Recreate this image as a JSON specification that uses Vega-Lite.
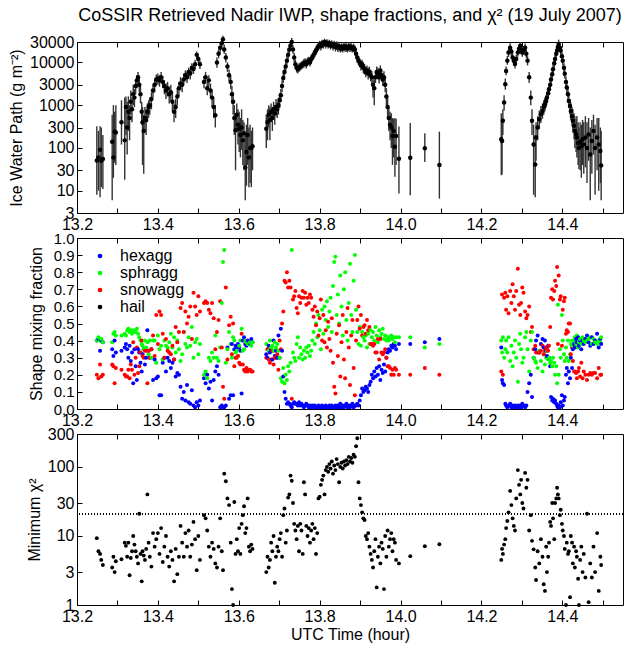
{
"$schema":"https://vega.github.io/schema/vega-lite/v6.json",
"background":"white",
"padding":{"left":8,"top":6,"right":0,"bottom":4},
"title":{"text":"CoSSIR Retrieved Nadir IWP, shape fractions, and χ² (19 July 2007)","fontSize":18,"font":"Liberation Sans","fontWeight":"normal","color":"black","anchor":"middle","offset":9,"dx":34},
"config":{"font":"Liberation Sans","view":{"stroke":"black","strokeWidth":1},
"axis":{"labelFont":"Liberation Sans","labelFontSize":16,"labelColor":"black","labelOverlap":false,"titleFont":"Liberation Sans","titleFontSize":16,"titleFontWeight":"normal","titleColor":"black","grid":false,"domain":false,"tickColor":"black","tickSize":-5,"labelPadding":8}},
"spacing":25,
"bounds":"flush",
"resolve":{"legend":{"color":"independent"}},
"datasets":{"d":[
{"t":13.249,"iwp":51,"lo":8,"hi":320,"hexagg":0.40,"sphragg":0.40,"snowagg":0.20,"chi2":9.3},
{"t":13.253,"iwp":60,"lo":10,"hi":250,"hexagg":0.41,"sphragg":0.42,"snowagg":0.18,"chi2":6.0},
{"t":13.257,"iwp":90,"lo":7,"hi":320,"hexagg":0.34,"sphragg":0.40,"snowagg":0.26,"chi2":5.5},
{"t":13.260,"iwp":50,"lo":12,"hi":300,"hexagg":0.40,"sphragg":0.41,"snowagg":0.19,"chi2":4.5},
{"t":13.264,"iwp":55,"lo":11,"hi":200,"hexagg":0.39,"sphragg":0.39,"snowagg":0.20,"chi2":3.8},
{"t":13.287,"iwp":140,"lo":6,"hi":600,"hexagg":0.35,"sphragg":0.39,"snowagg":0.26,"chi2":3.5},
{"t":13.290,"iwp":60,"lo":20,"hi":1000,"hexagg":0.31,"sphragg":0.44,"snowagg":0.25,"chi2":5.0},
{"t":13.293,"iwp":240,"lo":45,"hi":700,"hexagg":0.40,"sphragg":0.45,"snowagg":0.15,"chi2":3.0},
{"t":13.296,"iwp":230,"lo":40,"hi":1000,"hexagg":0.33,"sphragg":0.43,"snowagg":0.24,"chi2":4.3},
{"t":13.310,"iwp":400,"lo":120,"hi":1300,"hexagg":0.34,"sphragg":0.43,"snowagg":0.23,"chi2":4.6},
{"t":13.318,"iwp":150,"lo":18,"hi":1500,"hexagg":0.36,"sphragg":0.44,"snowagg":0.20,"chi2":8.0},
{"t":13.321,"iwp":900,"lo":200,"hi":1600,"hexagg":0.38,"sphragg":0.43,"snowagg":0.19,"chi2":7.2},
{"t":13.324,"iwp":300,"lo":70,"hi":1200,"hexagg":0.35,"sphragg":0.46,"snowagg":0.19,"chi2":5.0},
{"t":13.327,"iwp":700,"lo":250,"hi":1600,"hexagg":0.30,"sphragg":0.47,"snowagg":0.23,"chi2":8.0},
{"t":13.330,"iwp":500,"lo":150,"hi":1000,"hexagg":0.37,"sphragg":0.45,"snowagg":0.18,"chi2":2.7},
{"t":13.333,"iwp":1200,"lo":600,"hi":2200,"hexagg":0.28,"sphragg":0.46,"snowagg":0.26,"chi2":4.8},
{"t":13.336,"iwp":800,"lo":400,"hi":1500,"hexagg":0.33,"sphragg":0.44,"snowagg":0.23,"chi2":6.0},
{"t":13.339,"iwp":1800,"lo":1000,"hi":3000,"hexagg":0.15,"sphragg":0.46,"snowagg":0.39,"chi2":10},
{"t":13.342,"iwp":1500,"lo":900,"hi":2400,"hexagg":0.35,"sphragg":0.45,"snowagg":0.20,"chi2":7.5},
{"t":13.345,"iwp":2800,"lo":1800,"hi":4000,"hexagg":0.25,"sphragg":0.45,"snowagg":0.30,"chi2":6},
{"t":13.348,"iwp":3800,"lo":2500,"hi":5000,"hexagg":0.17,"sphragg":0.47,"snowagg":0.36,"chi2":5},
{"t":13.351,"iwp":4500,"lo":3200,"hi":6000,"hexagg":0.35,"sphragg":0.44,"snowagg":0.21,"chi2":4},
{"t":13.354,"iwp":3000,"lo":2000,"hi":4200,"hexagg":0.33,"sphragg":0.42,"snowagg":0.25,"chi2":21},
{"t":13.357,"iwp":1800,"lo":1100,"hi":2800,"hexagg":0.27,"sphragg":0.40,"snowagg":0.33,"chi2":5.5},
{"t":13.360,"iwp":700,"lo":350,"hi":1200,"hexagg":0.22,"sphragg":0.38,"snowagg":0.40,"chi2":2.2},
{"t":13.362,"iwp":400,"lo":40,"hi":900,"hexagg":0.32,"sphragg":0.37,"snowagg":0.31,"chi2":6},
{"t":13.365,"iwp":250,"lo":25,"hi":600,"hexagg":0.35,"sphragg":0.35,"snowagg":0.30,"chi2":5.2},
{"t":13.368,"iwp":500,"lo":250,"hi":900,"hexagg":0.26,"sphragg":0.40,"snowagg":0.34,"chi2":4.5},
{"t":13.371,"iwp":450,"lo":200,"hi":800,"hexagg":0.30,"sphragg":0.36,"snowagg":0.34,"chi2":6.5},
{"t":13.374,"iwp":700,"lo":400,"hi":1100,"hexagg":0.46,"sphragg":0.39,"snowagg":0.15,"chi2":40},
{"t":13.377,"iwp":900,"lo":500,"hi":1300,"hexagg":0.34,"sphragg":0.32,"snowagg":0.34,"chi2":8},
{"t":13.380,"iwp":1000,"lo":600,"hi":1500,"hexagg":0.30,"sphragg":0.40,"snowagg":0.30,"chi2":5},
{"t":13.384,"iwp":1400,"lo":800,"hi":2000,"hexagg":0.35,"sphragg":0.30,"snowagg":0.35,"chi2":3.6},
{"t":13.388,"iwp":2200,"lo":1500,"hi":3000,"hexagg":0.17,"sphragg":0.40,"snowagg":0.43,"chi2":11},
{"t":13.392,"iwp":3000,"lo":2000,"hi":4000,"hexagg":0.29,"sphragg":0.40,"snowagg":0.31,"chi2":7},
{"t":13.396,"iwp":4000,"lo":3000,"hi":5200,"hexagg":0.18,"sphragg":0.27,"snowagg":0.55,"chi2":9},
{"t":13.400,"iwp":4200,"lo":3000,"hi":5500,"hexagg":0.19,"sphragg":0.43,"snowagg":0.38,"chi2":11},
{"t":13.404,"iwp":3800,"lo":2700,"hi":5000,"hexagg":0.08,"sphragg":0.35,"snowagg":0.57,"chi2":5.5},
{"t":13.408,"iwp":4500,"lo":3300,"hi":6000,"hexagg":0.08,"sphragg":0.37,"snowagg":0.55,"chi2":13},
{"t":13.412,"iwp":3500,"lo":2500,"hi":4800,"hexagg":0.27,"sphragg":0.29,"snowagg":0.44,"chi2":4.2},
{"t":13.416,"iwp":2800,"lo":1800,"hi":3800,"hexagg":0.30,"sphragg":0.40,"snowagg":0.30,"chi2":7},
{"t":13.420,"iwp":2200,"lo":1400,"hi":3200,"hexagg":0.22,"sphragg":0.37,"snowagg":0.41,"chi2":10},
{"t":13.424,"iwp":2500,"lo":1600,"hi":3500,"hexagg":0.30,"sphragg":0.36,"snowagg":0.34,"chi2":5},
{"t":13.428,"iwp":1800,"lo":1100,"hi":2700,"hexagg":0.28,"sphragg":0.39,"snowagg":0.33,"chi2":3.6},
{"t":13.432,"iwp":2000,"lo":1200,"hi":3000,"hexagg":0.24,"sphragg":0.44,"snowagg":0.32,"chi2":6},
{"t":13.436,"iwp":1200,"lo":700,"hi":1900,"hexagg":0.27,"sphragg":0.36,"snowagg":0.37,"chi2":4.5},
{"t":13.440,"iwp":700,"lo":400,"hi":1100,"hexagg":0.29,"sphragg":0.42,"snowagg":0.29,"chi2":2.2},
{"t":13.444,"iwp":900,"lo":500,"hi":1400,"hexagg":0.19,"sphragg":0.33,"snowagg":0.48,"chi2":6.5},
{"t":13.448,"iwp":1600,"lo":1000,"hi":2500,"hexagg":0.21,"sphragg":0.40,"snowagg":0.39,"chi2":2.8},
{"t":13.452,"iwp":2500,"lo":1600,"hi":3500,"hexagg":0.20,"sphragg":0.35,"snowagg":0.45,"chi2":5},
{"t":13.456,"iwp":3200,"lo":2200,"hi":4500,"hexagg":0.13,"sphragg":0.28,"snowagg":0.59,"chi2":14},
{"t":13.460,"iwp":3000,"lo":2000,"hi":4200,"hexagg":0.06,"sphragg":0.32,"snowagg":0.62,"chi2":8},
{"t":13.464,"iwp":4000,"lo":3000,"hi":5500,"hexagg":0.10,"sphragg":0.45,"snowagg":0.45,"chi2":5},
{"t":13.468,"iwp":5000,"lo":3800,"hi":6500,"hexagg":0.05,"sphragg":0.38,"snowagg":0.57,"chi2":11},
{"t":13.472,"iwp":4500,"lo":3300,"hi":6000,"hexagg":0.14,"sphragg":0.36,"snowagg":0.50,"chi2":7},
{"t":13.476,"iwp":6000,"lo":4600,"hi":7500,"hexagg":0.04,"sphragg":0.42,"snowagg":0.54,"chi2":12},
{"t":13.480,"iwp":5500,"lo":4000,"hi":7200,"hexagg":0.03,"sphragg":0.37,"snowagg":0.60,"chi2":5},
{"t":13.484,"iwp":7500,"lo":5800,"hi":9500,"hexagg":0.11,"sphragg":0.48,"snowagg":0.41,"chi2":7.5},
{"t":13.488,"iwp":7000,"lo":5400,"hi":9000,"hexagg":0.02,"sphragg":0.30,"snowagg":0.68,"chi2":16},
{"t":13.492,"iwp":9000,"lo":7000,"hi":11500,"hexagg":0.01,"sphragg":0.39,"snowagg":0.60,"chi2":9},
{"t":13.496,"iwp":15000,"lo":12000,"hi":18000,"hexagg":0.04,"sphragg":0.41,"snowagg":0.55,"chi2":3.2},
{"t":13.500,"iwp":12000,"lo":9500,"hi":14500,"hexagg":0.02,"sphragg":0.32,"snowagg":0.66,"chi2":10},
{"t":13.504,"iwp":9000,"lo":7000,"hi":11000,"hexagg":0.05,"sphragg":0.38,"snowagg":0.57,"chi2":4.5},
{"t":13.514,"iwp":3500,"lo":2500,"hi":4800,"hexagg":0.18,"sphragg":0.20,"snowagg":0.62,"chi2":20},
{"t":13.518,"iwp":4500,"lo":3300,"hi":6000,"hexagg":0.15,"sphragg":0.22,"snowagg":0.63,"chi2":18},
{"t":13.522,"iwp":2500,"lo":1700,"hi":3500,"hexagg":0.20,"sphragg":0.18,"snowagg":0.62,"chi2":12},
{"t":13.526,"iwp":3800,"lo":2700,"hi":5000,"hexagg":0.12,"sphragg":0.30,"snowagg":0.58,"chi2":7},
{"t":13.530,"iwp":2200,"lo":1500,"hi":3200,"hexagg":0.16,"sphragg":0.28,"snowagg":0.56,"chi2":5},
{"t":13.534,"iwp":1500,"lo":900,"hi":2300,"hexagg":0.05,"sphragg":0.33,"snowagg":0.62,"chi2":8},
{"t":13.538,"iwp":900,"lo":500,"hi":1500,"hexagg":0.17,"sphragg":0.30,"snowagg":0.53,"chi2":6.5},
{"t":13.542,"iwp":580,"lo":300,"hi":1000,"hexagg":0.22,"sphragg":0.43,"snowagg":0.35,"chi2":4},
{"t":13.546,"iwp":10000,"lo":7500,"hi":13000,"hexagg":0.25,"sphragg":0.30,"snowagg":0.45,"chi2":3.5},
{"t":13.550,"iwp":16000,"lo":12500,"hi":20000,"hexagg":0.20,"sphragg":0.28,"snowagg":0.52,"chi2":7},
{"t":13.554,"iwp":22000,"lo":17000,"hi":28000,"hexagg":0.01,"sphragg":0.36,"snowagg":0.63,"chi2":18},
{"t":13.558,"iwp":28000,"lo":22000,"hi":35000,"hexagg":0.02,"sphragg":0.62,"snowagg":0.36,"chi2":6},
{"t":13.561,"iwp":35000,"lo":27000,"hi":42000,"hexagg":0.01,"sphragg":0.86,"snowagg":0.13,"chi2":3.2},
{"t":13.564,"iwp":20000,"lo":16000,"hi":26000,"hexagg":0.01,"sphragg":0.93,"snowagg":0.06,"chi2":80},
{"t":13.568,"iwp":13000,"lo":10000,"hi":16500,"hexagg":0.02,"sphragg":0.27,"snowagg":0.71,"chi2":62},
{"t":13.572,"iwp":8000,"lo":6000,"hi":10000,"hexagg":0.36,"sphragg":0.35,"snowagg":0.29,"chi2":35},
{"t":13.576,"iwp":5000,"lo":3600,"hi":6800,"hexagg":0.06,"sphragg":0.45,"snowagg":0.49,"chi2":28},
{"t":13.580,"iwp":3500,"lo":2400,"hi":4800,"hexagg":0.08,"sphragg":0.38,"snowagg":0.54,"chi2":8},
{"t":13.583,"iwp":1800,"lo":1100,"hi":2800,"hexagg":0.38,"sphragg":0.30,"snowagg":0.32,"chi2":1.7},
{"t":13.586,"iwp":1200,"lo":600,"hi":2000,"hexagg":0.08,"sphragg":0.42,"snowagg":0.50,"chi2":1.0},
{"t":13.589,"iwp":500,"lo":200,"hi":1000,"hexagg":0.35,"sphragg":0.40,"snowagg":0.25,"chi2":31},
{"t":13.592,"iwp":260,"lo":30,"hi":600,"hexagg":0.37,"sphragg":0.33,"snowagg":0.30,"chi2":5.5},
{"t":13.595,"iwp":600,"lo":250,"hi":1100,"hexagg":0.36,"sphragg":0.34,"snowagg":0.30,"chi2":9},
{"t":13.598,"iwp":350,"lo":120,"hi":800,"hexagg":0.38,"sphragg":0.31,"snowagg":0.31,"chi2":6},
{"t":13.601,"iwp":280,"lo":80,"hi":700,"hexagg":0.36,"sphragg":0.37,"snowagg":0.27,"chi2":13},
{"t":13.604,"iwp":200,"lo":60,"hi":500,"hexagg":0.34,"sphragg":0.40,"snowagg":0.26,"chi2":5.5},
{"t":13.607,"iwp":300,"lo":90,"hi":800,"hexagg":0.09,"sphragg":0.47,"snowagg":0.44,"chi2":15},
{"t":13.610,"iwp":150,"lo":40,"hi":450,"hexagg":0.40,"sphragg":0.34,"snowagg":0.26,"chi2":20},
{"t":13.613,"iwp":220,"lo":30,"hi":400,"hexagg":0.42,"sphragg":0.35,"snowagg":0.23,"chi2":27},
{"t":13.616,"iwp":35,"lo":6,"hi":200,"hexagg":0.38,"sphragg":0.40,"snowagg":0.22,"chi2":11},
{"t":13.619,"iwp":80,"lo":13,"hi":350,"hexagg":0.37,"sphragg":0.39,"snowagg":0.24,"chi2":13},
{"t":13.622,"iwp":200,"lo":40,"hi":500,"hexagg":0.40,"sphragg":0.38,"snowagg":0.22,"chi2":35},
{"t":13.625,"iwp":60,"lo":12,"hi":300,"hexagg":0.39,"sphragg":0.38,"snowagg":0.23,"chi2":7},
{"t":13.628,"iwp":100,"lo":15,"hi":350,"hexagg":0.38,"sphragg":0.39,"snowagg":0.23,"chi2":6},
{"t":13.631,"iwp":100,"lo":12,"hi":250,"hexagg":0.41,"sphragg":0.37,"snowagg":0.22,"chi2":7.5},
{"t":13.634,"iwp":110,"lo":30,"hi":300,"hexagg":0.39,"sphragg":0.39,"snowagg":0.22,"chi2":6.5},
{"t":13.668,"iwp":280,"lo":100,"hi":600,"hexagg":0.32,"sphragg":0.38,"snowagg":0.30,"chi2":3},
{"t":13.671,"iwp":400,"lo":150,"hi":800,"hexagg":0.30,"sphragg":0.35,"snowagg":0.35,"chi2":5},
{"t":13.674,"iwp":600,"lo":300,"hi":1000,"hexagg":0.37,"sphragg":0.34,"snowagg":0.29,"chi2":3.5},
{"t":13.677,"iwp":450,"lo":150,"hi":900,"hexagg":0.33,"sphragg":0.40,"snowagg":0.27,"chi2":4.5},
{"t":13.680,"iwp":700,"lo":400,"hi":1100,"hexagg":0.35,"sphragg":0.36,"snowagg":0.29,"chi2":8},
{"t":13.683,"iwp":500,"lo":250,"hi":900,"hexagg":0.29,"sphragg":0.37,"snowagg":0.34,"chi2":6},
{"t":13.686,"iwp":800,"lo":450,"hi":1200,"hexagg":0.40,"sphragg":0.34,"snowagg":0.26,"chi2":10},
{"t":13.689,"iwp":650,"lo":350,"hi":1000,"hexagg":0.31,"sphragg":0.39,"snowagg":0.30,"chi2":2.1},
{"t":13.692,"iwp":900,"lo":550,"hi":1400,"hexagg":0.34,"sphragg":0.36,"snowagg":0.30,"chi2":5},
{"t":13.695,"iwp":800,"lo":500,"hi":1200,"hexagg":0.30,"sphragg":0.38,"snowagg":0.32,"chi2":7},
{"t":13.698,"iwp":1000,"lo":600,"hi":1500,"hexagg":0.43,"sphragg":0.34,"snowagg":0.23,"chi2":6},
{"t":13.701,"iwp":1300,"lo":850,"hi":1900,"hexagg":0.30,"sphragg":0.30,"snowagg":0.40,"chi2":9},
{"t":13.704,"iwp":1700,"lo":1200,"hi":2400,"hexagg":0.47,"sphragg":0.18,"snowagg":0.35,"chi2":11},
{"t":13.707,"iwp":2800,"lo":2000,"hi":3800,"hexagg":0.34,"sphragg":0.16,"snowagg":0.50,"chi2":5},
{"t":13.710,"iwp":4300,"lo":3300,"hi":5600,"hexagg":0.19,"sphragg":0.24,"snowagg":0.57,"chi2":20},
{"t":13.713,"iwp":6000,"lo":4700,"hi":7600,"hexagg":0.10,"sphragg":0.15,"snowagg":0.75,"chi2":25},
{"t":13.716,"iwp":8000,"lo":6300,"hi":10000,"hexagg":0.06,"sphragg":0.20,"snowagg":0.74,"chi2":8},
{"t":13.719,"iwp":11000,"lo":8800,"hi":14000,"hexagg":0.03,"sphragg":0.17,"snowagg":0.80,"chi2":12},
{"t":13.722,"iwp":15000,"lo":12000,"hi":19000,"hexagg":0.04,"sphragg":0.25,"snowagg":0.71,"chi2":36},
{"t":13.725,"iwp":20000,"lo":16000,"hi":25000,"hexagg":0.03,"sphragg":0.22,"snowagg":0.75,"chi2":40},
{"t":13.728,"iwp":25000,"lo":20000,"hi":31000,"hexagg":0.02,"sphragg":0.27,"snowagg":0.71,"chi2":75},
{"t":13.731,"iwp":30000,"lo":24000,"hi":37000,"hexagg":0.01,"sphragg":0.93,"snowagg":0.06,"chi2":63},
{"t":13.734,"iwp":20000,"lo":16000,"hi":25000,"hexagg":0.03,"sphragg":0.33,"snowagg":0.64,"chi2":30},
{"t":13.737,"iwp":13000,"lo":10000,"hi":16500,"hexagg":0.04,"sphragg":0.30,"snowagg":0.66,"chi2":15},
{"t":13.740,"iwp":9000,"lo":7000,"hi":11500,"hexagg":0.03,"sphragg":0.28,"snowagg":0.69,"chi2":12},
{"t":13.743,"iwp":7500,"lo":5800,"hi":9500,"hexagg":0.03,"sphragg":0.38,"snowagg":0.59,"chi2":9},
{"t":13.746,"iwp":7000,"lo":5500,"hi":8800,"hexagg":0.02,"sphragg":0.42,"snowagg":0.56,"chi2":14},
{"t":13.749,"iwp":7500,"lo":6000,"hi":9500,"hexagg":0.04,"sphragg":0.30,"snowagg":0.66,"chi2":6},
{"t":13.752,"iwp":8000,"lo":6500,"hi":10000,"hexagg":0.02,"sphragg":0.36,"snowagg":0.62,"chi2":15},
{"t":13.755,"iwp":8500,"lo":6800,"hi":10500,"hexagg":0.03,"sphragg":0.32,"snowagg":0.65,"chi2":12},
{"t":13.758,"iwp":9000,"lo":7200,"hi":11000,"hexagg":0.02,"sphragg":0.29,"snowagg":0.69,"chi2":5.5},
{"t":13.761,"iwp":9500,"lo":7500,"hi":12000,"hexagg":0.01,"sphragg":0.34,"snowagg":0.65,"chi2":60},
{"t":13.764,"iwp":10000,"lo":8000,"hi":12500,"hexagg":0.02,"sphragg":0.30,"snowagg":0.68,"chi2":40},
{"t":13.767,"iwp":9000,"lo":7200,"hi":11500,"hexagg":0.03,"sphragg":0.36,"snowagg":0.61,"chi2":14},
{"t":13.770,"iwp":10500,"lo":8500,"hi":13000,"hexagg":0.02,"sphragg":0.33,"snowagg":0.65,"chi2":10},
{"t":13.773,"iwp":11000,"lo":9000,"hi":13500,"hexagg":0.01,"sphragg":0.37,"snowagg":0.62,"chi2":13},
{"t":13.776,"iwp":10000,"lo":8000,"hi":12500,"hexagg":0.02,"sphragg":0.31,"snowagg":0.67,"chi2":8},
{"t":13.779,"iwp":12000,"lo":9500,"hi":15000,"hexagg":0.01,"sphragg":0.34,"snowagg":0.65,"chi2":12},
{"t":13.782,"iwp":13000,"lo":10500,"hi":16000,"hexagg":0.02,"sphragg":0.40,"snowagg":0.58,"chi2":15},
{"t":13.785,"iwp":15000,"lo":12000,"hi":19000,"hexagg":0.01,"sphragg":0.45,"snowagg":0.54,"chi2":9},
{"t":13.788,"iwp":17000,"lo":13500,"hi":21000,"hexagg":0.02,"sphragg":0.38,"snowagg":0.60,"chi2":13},
{"t":13.791,"iwp":19000,"lo":15000,"hi":24000,"hexagg":0.01,"sphragg":0.50,"snowagg":0.49,"chi2":5.5},
{"t":13.794,"iwp":21000,"lo":17000,"hi":26000,"hexagg":0.01,"sphragg":0.42,"snowagg":0.57,"chi2":11},
{"t":13.797,"iwp":24000,"lo":19000,"hi":30000,"hexagg":0.02,"sphragg":0.55,"snowagg":0.43,"chi2":35},
{"t":13.800,"iwp":26000,"lo":21000,"hi":32000,"hexagg":0.01,"sphragg":0.46,"snowagg":0.53,"chi2":37},
{"t":13.803,"iwp":24000,"lo":19000,"hi":30000,"hexagg":0.01,"sphragg":0.35,"snowagg":0.64,"chi2":55},
{"t":13.806,"iwp":28000,"lo":22000,"hi":34000,"hexagg":0.02,"sphragg":0.58,"snowagg":0.40,"chi2":65},
{"t":13.809,"iwp":26000,"lo":21000,"hi":32000,"hexagg":0.01,"sphragg":0.44,"snowagg":0.55,"chi2":75},
{"t":13.812,"iwp":30000,"lo":24000,"hi":36000,"hexagg":0.01,"sphragg":0.60,"snowagg":0.39,"chi2":40},
{"t":13.815,"iwp":27000,"lo":21000,"hi":33000,"hexagg":0.02,"sphragg":0.52,"snowagg":0.46,"chi2":90},
{"t":13.818,"iwp":29000,"lo":23000,"hi":35000,"hexagg":0.01,"sphragg":0.63,"snowagg":0.36,"chi2":100},
{"t":13.821,"iwp":26000,"lo":21000,"hi":32000,"hexagg":0.01,"sphragg":0.48,"snowagg":0.51,"chi2":85},
{"t":13.824,"iwp":28000,"lo":22000,"hi":34000,"hexagg":0.02,"sphragg":0.57,"snowagg":0.41,"chi2":110},
{"t":13.827,"iwp":25000,"lo":20000,"hi":31000,"hexagg":0.01,"sphragg":0.65,"snowagg":0.34,"chi2":95},
{"t":13.830,"iwp":27000,"lo":22000,"hi":33000,"hexagg":0.02,"sphragg":0.45,"snowagg":0.53,"chi2":120},
{"t":13.833,"iwp":24000,"lo":19000,"hi":30000,"hexagg":0.01,"sphragg":0.72,"snowagg":0.27,"chi2":80},
{"t":13.836,"iwp":26000,"lo":21000,"hi":32000,"hexagg":0.01,"sphragg":0.86,"snowagg":0.13,"chi2":105},
{"t":13.839,"iwp":23000,"lo":18000,"hi":28000,"hexagg":0.02,"sphragg":0.89,"snowagg":0.09,"chi2":90},
{"t":13.842,"iwp":25000,"lo":20000,"hi":31000,"hexagg":0.01,"sphragg":0.55,"snowagg":0.44,"chi2":130},
{"t":13.845,"iwp":22000,"lo":17500,"hi":27500,"hexagg":0.02,"sphragg":0.67,"snowagg":0.31,"chi2":110},
{"t":13.848,"iwp":24000,"lo":19000,"hi":30000,"hexagg":0.01,"sphragg":0.50,"snowagg":0.49,"chi2":60},
{"t":13.851,"iwp":21000,"lo":17000,"hi":26000,"hexagg":0.03,"sphragg":0.78,"snowagg":0.19,"chi2":100},
{"t":13.854,"iwp":23000,"lo":18000,"hi":28000,"hexagg":0.01,"sphragg":0.60,"snowagg":0.39,"chi2":115},
{"t":13.857,"iwp":21000,"lo":17000,"hi":26000,"hexagg":0.02,"sphragg":0.43,"snowagg":0.55,"chi2":95},
{"t":13.860,"iwp":24000,"lo":19000,"hi":30000,"hexagg":0.01,"sphragg":0.70,"snowagg":0.29,"chi2":120},
{"t":13.863,"iwp":22000,"lo":17500,"hi":27500,"hexagg":0.02,"sphragg":0.80,"snowagg":0.18,"chi2":105},
{"t":13.866,"iwp":23000,"lo":18000,"hi":28000,"hexagg":0.03,"sphragg":0.52,"snowagg":0.45,"chi2":125},
{"t":13.869,"iwp":21000,"lo":17000,"hi":26000,"hexagg":0.01,"sphragg":0.40,"snowagg":0.59,"chi2":110},
{"t":13.872,"iwp":24000,"lo":19000,"hi":30000,"hexagg":0.02,"sphragg":0.62,"snowagg":0.36,"chi2":140},
{"t":13.875,"iwp":22000,"lo":17500,"hi":27500,"hexagg":0.01,"sphragg":0.85,"snowagg":0.14,"chi2":120},
{"t":13.878,"iwp":23000,"lo":18000,"hi":28000,"hexagg":0.02,"sphragg":0.55,"snowagg":0.43,"chi2":135},
{"t":13.881,"iwp":21000,"lo":17000,"hi":26000,"hexagg":0.03,"sphragg":0.45,"snowagg":0.52,"chi2":115},
{"t":13.884,"iwp":22000,"lo":17500,"hi":27500,"hexagg":0.01,"sphragg":0.75,"snowagg":0.24,"chi2":150},
{"t":13.887,"iwp":20000,"lo":16000,"hi":25000,"hexagg":0.02,"sphragg":0.90,"snowagg":0.08,"chi2":140},
{"t":13.890,"iwp":16000,"lo":12500,"hi":20000,"hexagg":0.02,"sphragg":0.58,"snowagg":0.40,"chi2":200},
{"t":13.893,"iwp":13000,"lo":10000,"hi":16500,"hexagg":0.03,"sphragg":0.45,"snowagg":0.52,"chi2":260},
{"t":13.896,"iwp":11000,"lo":8500,"hi":14000,"hexagg":0.02,"sphragg":0.38,"snowagg":0.60,"chi2":60},
{"t":13.899,"iwp":10000,"lo":8000,"hi":12500,"hexagg":0.05,"sphragg":0.48,"snowagg":0.47,"chi2":35},
{"t":13.902,"iwp":8500,"lo":6500,"hi":11000,"hexagg":0.08,"sphragg":0.37,"snowagg":0.55,"chi2":28},
{"t":13.905,"iwp":9000,"lo":7000,"hi":11500,"hexagg":0.12,"sphragg":0.45,"snowagg":0.43,"chi2":22},
{"t":13.908,"iwp":7500,"lo":5500,"hi":10000,"hexagg":0.10,"sphragg":0.42,"snowagg":0.48,"chi2":18},
{"t":13.911,"iwp":7000,"lo":5200,"hi":9200,"hexagg":0.11,"sphragg":0.40,"snowagg":0.49,"chi2":17},
{"t":13.914,"iwp":6000,"lo":4500,"hi":8000,"hexagg":0.13,"sphragg":0.43,"snowagg":0.44,"chi2":10},
{"t":13.917,"iwp":6500,"lo":5000,"hi":8500,"hexagg":0.12,"sphragg":0.36,"snowagg":0.52,"chi2":9},
{"t":13.920,"iwp":5500,"lo":4000,"hi":7500,"hexagg":0.10,"sphragg":0.44,"snowagg":0.46,"chi2":11},
{"t":13.923,"iwp":6000,"lo":4500,"hi":8000,"hexagg":0.14,"sphragg":0.38,"snowagg":0.48,"chi2":7},
{"t":13.926,"iwp":5000,"lo":3600,"hi":6800,"hexagg":0.16,"sphragg":0.46,"snowagg":0.38,"chi2":5.5},
{"t":13.929,"iwp":4500,"lo":3200,"hi":6300,"hexagg":0.20,"sphragg":0.42,"snowagg":0.38,"chi2":4.5},
{"t":13.932,"iwp":3000,"lo":1500,"hi":4500,"hexagg":0.18,"sphragg":0.45,"snowagg":0.37,"chi2":3.5},
{"t":13.935,"iwp":2500,"lo":1000,"hi":4000,"hexagg":0.22,"sphragg":0.40,"snowagg":0.38,"chi2":6},
{"t":13.938,"iwp":4500,"lo":3300,"hi":6000,"hexagg":0.19,"sphragg":0.48,"snowagg":0.33,"chi2":9},
{"t":13.941,"iwp":6000,"lo":4500,"hi":8000,"hexagg":0.24,"sphragg":0.43,"snowagg":0.33,"chi2":1.8},
{"t":13.944,"iwp":5500,"lo":4000,"hi":7500,"hexagg":0.20,"sphragg":0.39,"snowagg":0.41,"chi2":5},
{"t":13.947,"iwp":4500,"lo":3200,"hi":6200,"hexagg":0.25,"sphragg":0.46,"snowagg":0.29,"chi2":7},
{"t":13.950,"iwp":6500,"lo":5000,"hi":8500,"hexagg":0.17,"sphragg":0.42,"snowagg":0.41,"chi2":4},
{"t":13.953,"iwp":5000,"lo":3600,"hi":6800,"hexagg":0.23,"sphragg":0.44,"snowagg":0.33,"chi2":8},
{"t":13.956,"iwp":4000,"lo":2800,"hi":5600,"hexagg":0.21,"sphragg":0.47,"snowagg":0.32,"chi2":6.5},
{"t":13.959,"iwp":4500,"lo":3200,"hi":6200,"hexagg":0.26,"sphragg":0.41,"snowagg":0.33,"chi2":1.7},
{"t":13.962,"iwp":3000,"lo":2000,"hi":4300,"hexagg":0.22,"sphragg":0.43,"snowagg":0.35,"chi2":10},
{"t":13.965,"iwp":1600,"lo":1000,"hi":2500,"hexagg":0.30,"sphragg":0.40,"snowagg":0.30,"chi2":5},
{"t":13.968,"iwp":900,"lo":500,"hi":1500,"hexagg":0.33,"sphragg":0.42,"snowagg":0.25,"chi2":12},
{"t":13.971,"iwp":500,"lo":250,"hi":900,"hexagg":0.35,"sphragg":0.40,"snowagg":0.25,"chi2":7},
{"t":13.974,"iwp":350,"lo":150,"hi":700,"hexagg":0.34,"sphragg":0.42,"snowagg":0.24,"chi2":9},
{"t":13.977,"iwp":300,"lo":100,"hi":650,"hexagg":0.37,"sphragg":0.43,"snowagg":0.20,"chi2":11},
{"t":13.980,"iwp":190,"lo":40,"hi":500,"hexagg":0.36,"sphragg":0.41,"snowagg":0.23,"chi2":6},
{"t":13.983,"iwp":250,"lo":60,"hi":480,"hexagg":0.38,"sphragg":0.42,"snowagg":0.20,"chi2":9},
{"t":13.986,"iwp":107,"lo":21,"hi":500,"hexagg":0.37,"sphragg":0.39,"snowagg":0.24,"chi2":8},
{"t":13.989,"iwp":190,"lo":40,"hi":480,"hexagg":0.35,"sphragg":0.42,"snowagg":0.23,"chi2":4.5},
{"t":13.996,"iwp":56,"lo":8.6,"hi":316,"hexagg":0.38,"sphragg":0.42,"snowagg":0.20,"chi2":4.0},
{"t":14.024,"iwp":59,"lo":7.8,"hi":380,"hexagg":0.38,"sphragg":0.42,"snowagg":0.20,"chi2":5.1},
{"t":14.060,"iwp":98,"lo":47,"hi":220,"hexagg":0.39,"sphragg":0.36,"snowagg":0.24,"chi2":7.1},
{"t":14.096,"iwp":40,"lo":6.5,"hi":240,"hexagg":0.41,"sphragg":0.38,"snowagg":0.20,"chi2":7.6},
{"t":14.249,"iwp":160,"lo":23,"hi":650,"hexagg":0.36,"sphragg":0.40,"snowagg":0.22,"chi2":4.5},
{"t":14.251,"iwp":145,"lo":24,"hi":500,"hexagg":0.17,"sphragg":0.33,"snowagg":0.67,"chi2":6.5},
{"t":14.253,"iwp":430,"lo":200,"hi":800,"hexagg":0.15,"sphragg":0.42,"snowagg":0.20,"chi2":5.5},
{"t":14.256,"iwp":1150,"lo":750,"hi":1700,"hexagg":0.14,"sphragg":0.30,"snowagg":0.65,"chi2":7.5},
{"t":14.259,"iwp":3100,"lo":2300,"hi":4200,"hexagg":0.03,"sphragg":0.35,"snowagg":0.68,"chi2":9},
{"t":14.261,"iwp":6300,"lo":5000,"hi":8000,"hexagg":0.02,"sphragg":0.40,"snowagg":0.58,"chi2":13},
{"t":14.264,"iwp":11000,"lo":8800,"hi":14000,"hexagg":0.01,"sphragg":0.33,"snowagg":0.66,"chi2":16.5},
{"t":14.267,"iwp":17000,"lo":13500,"hi":21000,"hexagg":0.02,"sphragg":0.42,"snowagg":0.56,"chi2":22},
{"t":14.271,"iwp":22000,"lo":17500,"hi":28000,"hexagg":0.03,"sphragg":0.28,"snowagg":0.69,"chi2":45},
{"t":14.274,"iwp":18000,"lo":14000,"hi":23000,"hexagg":0.01,"sphragg":0.37,"snowagg":0.62,"chi2":28},
{"t":14.277,"iwp":13000,"lo":10000,"hi":16500,"hexagg":0.02,"sphragg":0.25,"snowagg":0.73,"chi2":18},
{"t":14.280,"iwp":11000,"lo":8500,"hi":14000,"hexagg":0.01,"sphragg":0.33,"snowagg":0.66,"chi2":14},
{"t":14.283,"iwp":9200,"lo":7200,"hi":11500,"hexagg":0.02,"sphragg":0.40,"snowagg":0.58,"chi2":12},
{"t":14.286,"iwp":12000,"lo":9500,"hi":15000,"hexagg":0.01,"sphragg":0.30,"snowagg":0.69,"chi2":35},
{"t":14.290,"iwp":17000,"lo":13500,"hi":21000,"hexagg":0.02,"sphragg":0.16,"snowagg":0.82,"chi2":90},
{"t":14.293,"iwp":21000,"lo":17000,"hi":26000,"hexagg":0.01,"sphragg":0.38,"snowagg":0.61,"chi2":55},
{"t":14.296,"iwp":24500,"lo":19500,"hi":30000,"hexagg":0.02,"sphragg":0.44,"snowagg":0.55,"chi2":40},
{"t":14.298,"iwp":20000,"lo":16000,"hi":25000,"hexagg":0.01,"sphragg":0.35,"snowagg":0.62,"chi2":65},
{"t":14.301,"iwp":17000,"lo":13500,"hi":21000,"hexagg":0.03,"sphragg":0.27,"snowagg":0.71,"chi2":30},
{"t":14.304,"iwp":19000,"lo":15000,"hi":24000,"hexagg":0.02,"sphragg":0.30,"snowagg":0.68,"chi2":25},
{"t":14.308,"iwp":22000,"lo":17500,"hi":27500,"hexagg":0.01,"sphragg":0.42,"snowagg":0.57,"chi2":82},
{"t":14.311,"iwp":16000,"lo":12500,"hi":20000,"hexagg":0.02,"sphragg":0.45,"snowagg":0.53,"chi2":50},
{"t":14.314,"iwp":11000,"lo":8500,"hi":14000,"hexagg":0.10,"sphragg":0.35,"snowagg":0.55,"chi2":65},
{"t":14.318,"iwp":4500,"lo":3300,"hi":6000,"hexagg":0.15,"sphragg":0.22,"snowagg":0.60,"chi2":12},
{"t":14.322,"iwp":1500,"lo":1000,"hi":2200,"hexagg":0.20,"sphragg":0.40,"snowagg":0.45,"chi2":20},
{"t":14.325,"iwp":430,"lo":200,"hi":800,"hexagg":0.07,"sphragg":0.45,"snowagg":0.48,"chi2":8.5},
{"t":14.329,"iwp":120,"lo":8,"hi":350,"hexagg":0.30,"sphragg":0.30,"snowagg":0.35,"chi2":6.4},
{"t":14.333,"iwp":41,"lo":7,"hi":200,"hexagg":0.35,"sphragg":0.28,"snowagg":0.37,"chi2":3.5},
{"t":14.335,"iwp":175,"lo":50,"hi":400,"hexagg":0.40,"sphragg":0.27,"snowagg":0.33,"chi2":2.3},
{"t":14.339,"iwp":300,"lo":150,"hi":550,"hexagg":0.43,"sphragg":0.24,"snowagg":0.33,"chi2":6},
{"t":14.343,"iwp":470,"lo":280,"hi":750,"hexagg":0.33,"sphragg":0.34,"snowagg":0.33,"chi2":4},
{"t":14.347,"iwp":610,"lo":380,"hi":950,"hexagg":0.38,"sphragg":0.28,"snowagg":0.34,"chi2":9},
{"t":14.351,"iwp":730,"lo":480,"hi":1100,"hexagg":0.41,"sphragg":0.22,"snowagg":0.37,"chi2":5},
{"t":14.354,"iwp":900,"lo":600,"hi":1300,"hexagg":0.36,"sphragg":0.32,"snowagg":0.32,"chi2":2.0},
{"t":14.357,"iwp":1050,"lo":720,"hi":1500,"hexagg":0.40,"sphragg":0.26,"snowagg":0.34,"chi2":1.6},
{"t":14.360,"iwp":1250,"lo":880,"hi":1750,"hexagg":0.34,"sphragg":0.30,"snowagg":0.36,"chi2":7},
{"t":14.362,"iwp":1500,"lo":1100,"hi":2000,"hexagg":0.31,"sphragg":0.34,"snowagg":0.35,"chi2":3},
{"t":14.365,"iwp":1900,"lo":1400,"hi":2600,"hexagg":0.37,"sphragg":0.29,"snowagg":0.34,"chi2":5},
{"t":14.367,"iwp":2350,"lo":1750,"hi":3100,"hexagg":0.30,"sphragg":0.30,"snowagg":0.37,"chi2":8},
{"t":14.370,"iwp":3000,"lo":2300,"hi":3900,"hexagg":0.25,"sphragg":0.27,"snowagg":0.48,"chi2":16},
{"t":14.372,"iwp":4000,"lo":3100,"hi":5200,"hexagg":0.07,"sphragg":0.28,"snowagg":0.65,"chi2":14},
{"t":14.375,"iwp":5300,"lo":4200,"hi":6800,"hexagg":0.05,"sphragg":0.25,"snowagg":0.70,"chi2":30},
{"t":14.377,"iwp":6900,"lo":5500,"hi":8800,"hexagg":0.06,"sphragg":0.30,"snowagg":0.64,"chi2":18},
{"t":14.380,"iwp":9500,"lo":7500,"hi":12000,"hexagg":0.04,"sphragg":0.27,"snowagg":0.69,"chi2":9},
{"t":14.382,"iwp":12000,"lo":9500,"hi":15000,"hexagg":0.05,"sphragg":0.20,"snowagg":0.75,"chi2":30},
{"t":14.385,"iwp":16000,"lo":13000,"hi":20000,"hexagg":0.03,"sphragg":0.25,"snowagg":0.72,"chi2":35},
{"t":14.387,"iwp":19000,"lo":15000,"hi":24000,"hexagg":0.02,"sphragg":0.15,"snowagg":0.83,"chi2":50},
{"t":14.389,"iwp":23000,"lo":18500,"hi":29000,"hexagg":0.01,"sphragg":0.61,"snowagg":0.38,"chi2":40},
{"t":14.391,"iwp":27000,"lo":21000,"hi":34000,"hexagg":0.02,"sphragg":0.20,"snowagg":0.78,"chi2":35},
{"t":14.394,"iwp":22000,"lo":17500,"hi":27500,"hexagg":0.01,"sphragg":0.35,"snowagg":0.64,"chi2":20},
{"t":14.396,"iwp":19000,"lo":15000,"hi":24000,"hexagg":0.04,"sphragg":0.30,"snowagg":0.66,"chi2":24},
{"t":14.399,"iwp":14000,"lo":11000,"hi":17500,"hexagg":0.08,"sphragg":0.55,"snowagg":0.37,"chi2":15},
{"t":14.401,"iwp":11000,"lo":8500,"hi":14000,"hexagg":0.02,"sphragg":0.40,"snowagg":0.58,"chi2":12},
{"t":14.404,"iwp":7500,"lo":5800,"hi":9500,"hexagg":0.05,"sphragg":0.32,"snowagg":0.63,"chi2":10},
{"t":14.406,"iwp":5400,"lo":4200,"hi":7000,"hexagg":0.07,"sphragg":0.28,"snowagg":0.65,"chi2":6.5},
{"t":14.409,"iwp":3500,"lo":2600,"hi":4700,"hexagg":0.20,"sphragg":0.36,"snowagg":0.44,"chi2":1.0},
{"t":14.411,"iwp":2600,"lo":1900,"hi":3600,"hexagg":0.24,"sphragg":0.30,"snowagg":0.46,"chi2":8},
{"t":14.414,"iwp":1800,"lo":1300,"hi":2500,"hexagg":0.15,"sphragg":0.40,"snowagg":0.45,"chi2":5.5},
{"t":14.416,"iwp":1250,"lo":850,"hi":1800,"hexagg":0.22,"sphragg":0.28,"snowagg":0.50,"chi2":6},
{"t":14.419,"iwp":950,"lo":600,"hi":1400,"hexagg":0.18,"sphragg":0.32,"snowagg":0.50,"chi2":1.3},
{"t":14.421,"iwp":730,"lo":450,"hi":1150,"hexagg":0.30,"sphragg":0.38,"snowagg":0.32,"chi2":10},
{"t":14.424,"iwp":550,"lo":320,"hi":900,"hexagg":0.24,"sphragg":0.40,"snowagg":0.36,"chi2":8},
{"t":14.426,"iwp":430,"lo":230,"hi":800,"hexagg":0.35,"sphragg":0.37,"snowagg":0.28,"chi2":4},
{"t":14.429,"iwp":330,"lo":160,"hi":650,"hexagg":0.38,"sphragg":0.40,"snowagg":0.22,"chi2":7},
{"t":14.431,"iwp":250,"lo":100,"hi":550,"hexagg":0.36,"sphragg":0.42,"snowagg":0.22,"chi2":3.5},
{"t":14.434,"iwp":210,"lo":80,"hi":480,"hexagg":0.41,"sphragg":0.38,"snowagg":0.21,"chi2":6},
{"t":14.436,"iwp":175,"lo":60,"hi":560,"hexagg":0.39,"sphragg":0.43,"snowagg":0.18,"chi2":5},
{"t":14.439,"iwp":130,"lo":40,"hi":400,"hexagg":0.42,"sphragg":0.36,"snowagg":0.22,"chi2":2.4},
{"t":14.441,"iwp":100,"lo":32,"hi":300,"hexagg":0.37,"sphragg":0.39,"snowagg":0.24,"chi2":1.0},
{"t":14.444,"iwp":140,"lo":30,"hi":400,"hexagg":0.40,"sphragg":0.41,"snowagg":0.19,"chi2":4.5},
{"t":14.447,"iwp":110,"lo":20,"hi":350,"hexagg":0.35,"sphragg":0.38,"snowagg":0.27,"chi2":7},
{"t":14.450,"iwp":160,"lo":40,"hi":450,"hexagg":0.40,"sphragg":0.42,"snowagg":0.18,"chi2":3},
{"t":14.453,"iwp":120,"lo":25,"hi":400,"hexagg":0.38,"sphragg":0.40,"snowagg":0.22,"chi2":5.5},
{"t":14.457,"iwp":175,"lo":35,"hi":550,"hexagg":0.41,"sphragg":0.39,"snowagg":0.20,"chi2":2.5},
{"t":14.461,"iwp":100,"lo":15,"hi":400,"hexagg":0.43,"sphragg":0.40,"snowagg":0.17,"chi2":21},
{"t":14.465,"iwp":205,"lo":50,"hi":500,"hexagg":0.39,"sphragg":0.41,"snowagg":0.20,"chi2":1.1},
{"t":14.469,"iwp":70,"lo":6,"hi":300,"hexagg":0.37,"sphragg":0.42,"snowagg":0.21,"chi2":4},
{"t":14.473,"iwp":145,"lo":25,"hi":450,"hexagg":0.42,"sphragg":0.38,"snowagg":0.20,"chi2":2.5},
{"t":14.477,"iwp":250,"lo":70,"hi":600,"hexagg":0.38,"sphragg":0.41,"snowagg":0.21,"chi2":7},
{"t":14.481,"iwp":100,"lo":8,"hi":350,"hexagg":0.40,"sphragg":0.39,"snowagg":0.21,"chi2":3},
{"t":14.486,"iwp":175,"lo":30,"hi":500,"hexagg":0.44,"sphragg":0.38,"snowagg":0.18,"chi2":11},
{"t":14.490,"iwp":120,"lo":10,"hi":500,"hexagg":0.36,"sphragg":0.40,"snowagg":0.24,"chi2":1.6},
{"t":14.494,"iwp":85,"lo":15,"hi":300,"hexagg":0.41,"sphragg":0.39,"snowagg":0.20,"chi2":5},
{"t":14.496,"iwp":39,"lo":6,"hi":250,"hexagg":0.38,"sphragg":0.42,"snowagg":0.20,"chi2":3.8}
]},
"vconcat":[
{"width":546,"height":171,"data":{"name":"d"},
 "resolve":{"axis":{"x":"independent"}},
 "layer":[
  {"mark":{"type":"rule","color":"#333333","strokeWidth":1.4},
   "encoding":{
    "x":{"field":"t","type":"quantitative","scale":{"domain":[13.2,14.55],"nice":false,"zero":false},
      "axis":{"orient":"bottom","values":[13.2,13.3,13.4,13.5,13.6,13.7,13.8,13.9,14.0,14.1,14.2,14.3,14.4,14.5],"labelExpr":"round(datum.value*10) % 2 == 0 ? format(datum.value, '.1f') : ''","labelFlush":false,"labelOverlap":false,"title":null}},
    "y":{"field":"lo","type":"quantitative","scale":{"type":"log","domain":[3,30000],"nice":false},
      "axis":{"values":[3,10,30,100,300,1000,3000,10000,30000],"format":"d","labelOverlap":false,"title":"Ice Water Path (g m⁻²)","titlePadding":5}},
    "y2":{"field":"hi"}}},
  {"mark":{"type":"point","filled":true,"color":"black","size":20,"opacity":1},
   "encoding":{
    "x":{"field":"t","type":"quantitative","axis":{"orient":"top","values":[13.2,13.3,13.4,13.5,13.6,13.7,13.8,13.9,14.0,14.1,14.2,14.3,14.4,14.5],"labels":false,"title":null}},
    "y":{"field":"iwp","type":"quantitative","axis":{"values":[3,10,30,100,300,1000,3000,10000,30000],"format":"d","labelOverlap":false,"title":"Ice Water Path (g m⁻²)","titlePadding":5}}}}
 ]},
{"width":546,"height":171,"data":{"name":"d"},
 "resolve":{"axis":{"x":"independent"}},
 "transform":[{"fold":["hexagg","sphragg","snowagg"],"as":["shape","frac"]}],
 "layer":[
  {"mark":{"type":"point","filled":true,"size":16,"opacity":1},
   "encoding":{
    "x":{"field":"t","type":"quantitative","scale":{"domain":[13.2,14.55],"nice":false,"zero":false},
      "axis":{"orient":"bottom","values":[13.2,13.3,13.4,13.5,13.6,13.7,13.8,13.9,14.0,14.1,14.2,14.3,14.4,14.5],"labelExpr":"round(datum.value*10) % 2 == 0 ? format(datum.value, '.1f') : ''","labelFlush":false,"labelOverlap":false,"title":null}},
    "y":{"field":"frac","type":"quantitative","scale":{"domain":[0,1],"nice":false},
      "axis":{"values":[0,0.1,0.2,0.3,0.4,0.5,0.6,0.7,0.8,0.9,1.0],"format":".1f","labelOverlap":false,"labelFontSize":15,"title":"Shape mixing fraction","titlePadding":9}},
    "color":{"field":"shape","type":"nominal","scale":{"domain":["hexagg","sphragg","snowagg","hail"],"range":["#0000ff","#00ff00","#ff0000","#000000"]},
      "legend":{"orient":"none","legendX":15,"legendY":10,"title":null,"labelFontSize":16,"labelFont":"Liberation Sans","labelColor":"black","symbolSize":22,"symbolType":"circle","symbolStrokeWidth":0,"rowPadding":1,"labelOffset":12,"padding":0}}}},
  {"mark":{"type":"point","opacity":0},
   "encoding":{
    "x":{"field":"t","type":"quantitative","axis":{"orient":"top","values":[13.2,13.3,13.4,13.5,13.6,13.7,13.8,13.9,14.0,14.1,14.2,14.3,14.4,14.5],"labels":false,"title":null}},
    "y":{"field":"frac","type":"quantitative","axis":{"values":[0,0.1,0.2,0.3,0.4,0.5,0.6,0.7,0.8,0.9,1.0],"format":".1f","labelOverlap":false,"labelFontSize":15,"title":"Shape mixing fraction","titlePadding":9}}}}
 ]},
{"width":546,"height":171,"data":{"name":"d"},
 "resolve":{"axis":{"x":"independent"}},
 "layer":[
  {"mark":{"type":"point","filled":true,"color":"black","size":15,"opacity":1},
   "encoding":{
    "x":{"field":"t","type":"quantitative","scale":{"domain":[13.2,14.55],"nice":false,"zero":false},
      "axis":{"orient":"bottom","values":[13.2,13.3,13.4,13.5,13.6,13.7,13.8,13.9,14.0,14.1,14.2,14.3,14.4,14.5],"labelExpr":"round(datum.value*10) % 2 == 0 ? format(datum.value, '.1f') : ''","labelFlush":false,"labelOverlap":false,"title":"UTC Time (hour)","titlePadding":2}},
    "y":{"field":"chi2","type":"quantitative","scale":{"type":"log","domain":[1,300],"nice":false},
      "axis":{"values":[1,3,10,30,100,300],"format":"d","labelOverlap":false,"title":"Minimum χ²","titlePadding":5}}}},
  {"mark":{"type":"rule","color":"black","strokeWidth":1,"strokeDash":[1,2]},
   "encoding":{"y":{"datum":21}}},
  {"mark":{"type":"point","opacity":0},
   "encoding":{
    "x":{"field":"t","type":"quantitative","axis":{"orient":"top","values":[13.2,13.3,13.4,13.5,13.6,13.7,13.8,13.9,14.0,14.1,14.2,14.3,14.4,14.5],"labels":false,"title":null}},
    "y":{"field":"chi2","type":"quantitative","axis":{"values":[1,3,10,30,100,300],"format":"d","labelOverlap":false,"title":"Minimum χ²","titlePadding":5}}}}
 ]}
]
}
